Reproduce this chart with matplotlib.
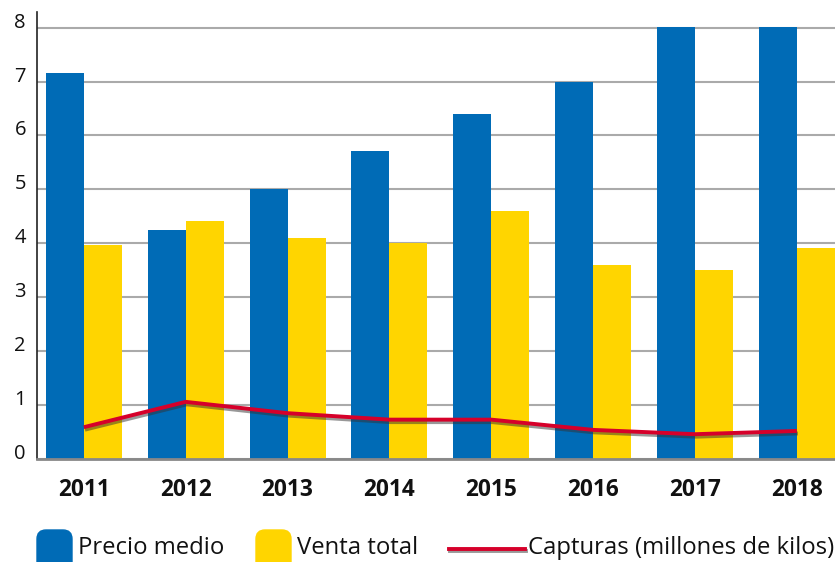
import matplotlib.pyplot as plt
import matplotlib.patheffects as pe
from matplotlib.patches import FancyBboxPatch
from matplotlib.lines import Line2D
from matplotlib.transforms import IdentityTransform
import numpy as np

plt.rcParams['font.family'] = ['Open Sans', 'DejaVu Sans']

## data
years = ["2011", "2012", "2013", "2014", "2015", "2016", "2017", "2018"]
precio_medio = [7.16, 4.25, 5.0, 5.71, 6.40, 7.0, 8.02, 8.02]
venta_total = [3.97, 4.42, 4.10, 4.0, 4.60, 3.60, 3.51, 3.91]
capturas = [0.59, 1.06, 0.85, 0.73, 0.73, 0.54, 0.46, 0.52]

blue = "#006bb6"
yellow = "#ffd500"
red = "#d6002a"

fig = plt.figure(figsize=(8.35, 5.62), dpi=100)
ax = fig.add_axes([37/835, 1 - 459/562, 1 - 37/835, (459 - 12)/562])

x = np.arange(len(years))
w = 0.373
ax.bar(x - w/2, precio_medio, width=w, color=blue, zorder=2)
ax.bar(x + w/2, venta_total, width=w, color=yellow, zorder=2)
ax.plot(x, capturas, color=red, lw=2.8, zorder=4, solid_capstyle='butt',
        path_effects=[pe.SimpleLineShadow(offset=(0.8, -1.8), shadow_color='#333333', alpha=0.5),
                      pe.Normal()])

ax.set_xlim(-0.46, 7.375)
ax.set_ylim(0, 8.29)
ax.set_yticks(range(9))
ax.yaxis.grid(True, color='#aaaaaa', lw=1.5, zorder=1)
ax.set_axisbelow(True)

for s in ['top', 'right']:
    ax.spines[s].set_visible(False)
ax.spines['left'].set_color('#222222')
ax.spines['left'].set_linewidth(1.2)
ax.spines['bottom'].set_color('#888888')
ax.spines['bottom'].set_linewidth(2)

ax.tick_params(axis='y', length=0, labelsize=14.5, pad=8, labelcolor='#111111')
for lab in ax.get_yticklabels():
    lab.set_verticalalignment('baseline')
ax.tick_params(axis='x', length=0, pad=14)
ax.set_xticks(x, labels=years, fontsize=16.3, fontweight='bold', color='#111111')

## legend drawn by hand along the bottom (pixel coordinates, origin bottom-left)
def swatch(x0, color):
    p = FancyBboxPatch((x0, -12), 35, 44,
                       boxstyle="round,pad=0,rounding_size=9",
                       transform=IdentityTransform(), color=color, clip_on=False)
    fig.add_artist(p)

ty = 1 - 548.5/562
swatch(37, blue)
fig.text(78/835, ty, "Precio medio", fontsize=17.2, va='center', color='#111111')
swatch(256, yellow)
fig.text(297/835, ty, "Venta total", fontsize=17.2, va='center', color='#111111')
ln = Line2D([449/835, 525/835], [1 - 549/562, 1 - 549/562], transform=fig.transFigure,
            color=red, lw=2.8,
            path_effects=[pe.SimpleLineShadow(offset=(0.8, -1.5), shadow_color='#333333', alpha=0.5),
                          pe.Normal()])
fig.add_artist(ln)
fig.text(528/835, ty, "Capturas (millones de kilos)", fontsize=17.2, va='center', color='#111111')

fig.savefig("out.png", dpi=100)
